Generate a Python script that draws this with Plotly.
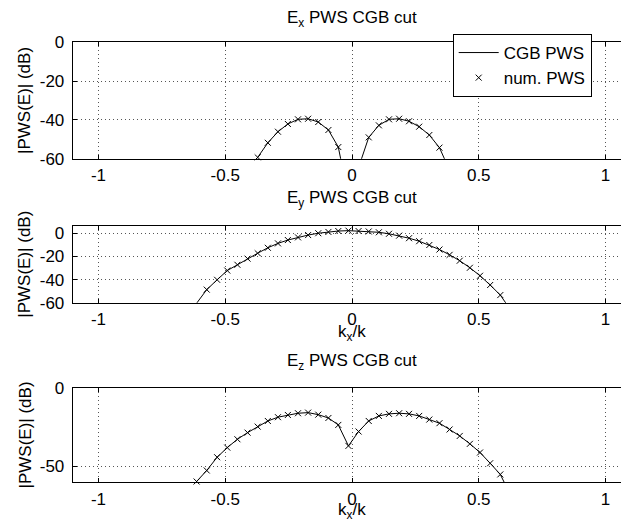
import plotly.graph_objects as go

# ---- data ----
KX = [-0.653, -0.613, -0.573, -0.532, -0.492, -0.452, -0.412, -0.372, -0.332, -0.292,
      -0.253, -0.213, -0.173, -0.133, -0.093, -0.054, -0.014, 0.026, 0.066, 0.106,
      0.146, 0.186, 0.225, 0.265, 0.305, 0.345, 0.385, 0.425, 0.465, 0.505,
      0.545, 0.585, 0.625]

EX_DB = [None, None, None, None, None, None, -66.0, -59.3, -51.8, -46.1,
         -42.1, -39.7, -39.4, -41.1, -45.2, -54.0, -80.0, -65.0, -49.0, -42.8,
         -39.7, -39.4, -40.7, -43.5, -47.8, -54.3, -66.0, None, None, None,
         None, None, None]

EY_DB = [None, -60.5, -48.7, -40.2, -32.2, -27.2, -21.9, -17.2, -12.5, -8.7,
         -5.8, -3.5, -1.5, 0.1, 1.2, 2.0, 2.3, 2.0, 1.6, 0.9,
         -0.4, -2.0, -4.2, -6.8, -10.1, -14.0, -18.6, -23.7, -29.8, -36.7,
         -44.7, -53.4, -66.0]

EZ_DB = [-68.0, -59.5, -52.5, -44.1, -38.0, -32.7, -28.5, -24.7, -21.1, -18.7,
         -17.3, -16.2, -15.8, -17.1, -19.2, -23.6, -36.9, -27.8, -21.1, -17.9,
         -16.6, -16.2, -16.6, -17.9, -20.2, -22.5, -26.5, -30.6, -35.6, -41.1,
         -47.9, -55.0, -68.0]

XTICKS = [-1, -0.5, 0, 0.5, 1]
XTICKTEXT = ["-1", "-0.5", "0", "0.5", "1"]
YTICKS_AB = [-60, -40, -20, 0]
YTICKTEXT_AB = ["-60", "-40", "-20", "0"]
YTICKS_C = [-50, 0]
YTICKTEXT_C = ["-50", "0"]

TITLES = ["E<sub>x</sub> PWS CGB cut", "E<sub>y</sub> PWS CGB cut", "E<sub>z</sub> PWS CGB cut"]
YLABEL = "|PWS(E)| (dB)"
XLABEL = "k<sub>x</sub>/k"
LEGEND_NAMES = ["CGB PWS", "num. PWS"]

# ---- layout geometry (pixels) ----
W, H = 621, 529
FONT = "Liberation Sans, Arial, Helvetica, sans-serif"
FS = 17
XL = 72.7
panels = [  # (top px, bottom px, y-range, ticks, ticktext, data)
    (42.3, 158.7, [-60, 0], YTICKS_AB, YTICKTEXT_AB, EX_DB),
    (225.7, 302.7, [-60, 6.6], YTICKS_AB, YTICKTEXT_AB, EY_DB),
    (387.7, 482.3, [-60, 0], YTICKS_C, YTICKTEXT_C, EZ_DB),
]
title_y = [19.0, 199.5, 362.0]
xlabel_y = [None, 332.5, 511.0]
k0_px = 352.0
px_per_unit = 253.5
xr = [(XL - k0_px) / px_per_unit, (W - k0_px) / px_per_unit]

fig = go.Figure()
layout = dict(width=W, height=H, autosize=False,
              margin=dict(l=0, r=0, t=0, b=0, pad=0, autoexpand=False),
              paper_bgcolor="white", plot_bgcolor="white",
              font=dict(family=FONT, size=FS, color="black"),
              showlegend=True, annotations=[])

def py(p):
    return 1 - p / H

for i, (top, bot, yr, yt, ytt, vals) in enumerate(panels):
    n = i + 1
    xa = "x" if n == 1 else f"x{n}"
    ya = "y" if n == 1 else f"y{n}"
    fig.add_trace(go.Scatter(x=KX, y=vals, mode="lines", name=LEGEND_NAMES[0],
                             line=dict(color="black", width=1),
                             showlegend=(n == 1), xaxis=xa, yaxis=ya,
                             hoverinfo="skip"))
    mk = [(k, v) for k, v in zip(KX, vals) if v is not None and yr[0] <= v <= yr[1]]
    fig.add_trace(go.Scatter(x=[k for k, _ in mk], y=[v for _, v in mk], mode="markers",
                             name=LEGEND_NAMES[1], cliponaxis=False,
                             marker=dict(symbol="x-thin", size=6,
                                         line=dict(color="black", width=1), color="black"),
                             showlegend=(n == 1), xaxis=xa, yaxis=ya))
    axis_common = dict(showline=True, linecolor="black", linewidth=1,
                       ticks="inside", ticklen=4, tickcolor="black", tickwidth=1,
                       showgrid=True, gridcolor="#555", gridwidth=1, griddash="1px,3px",
                       zeroline=False, automargin=False,
                       tickfont=dict(family=FONT, size=FS, color="black"))
    layout["xaxis" if n == 1 else f"xaxis{n}"] = dict(
        axis_common, domain=[XL / W, 1.0], range=xr, tickvals=XTICKS, ticktext=XTICKTEXT,
        mirror="ticks", anchor=ya, ticklabelstandoff=1)
    layout["yaxis" if n == 1 else f"yaxis{n}"] = dict(
        axis_common, domain=[py(bot), py(top)], range=yr, tickvals=yt, ticktext=ytt,
        mirror=False, anchor=xa, ticklabelstandoff=4)
    layout["annotations"].append(dict(text=TITLES[i], xref="paper", yref="paper",
                                      x=k0_px / W, y=py(title_y[i]), xanchor="center",
                                      yanchor="middle", showarrow=False, borderpad=0,
                                      font=dict(family=FONT, size=FS)))
    layout["annotations"].append(dict(text=YLABEL, xref="paper", yref="paper",
                                      x=24.5 / W, y=py((top + bot) / 2), xanchor="center",
                                      yanchor="middle", textangle=-90, showarrow=False,
                                      borderpad=0, font=dict(family=FONT, size=FS)))
    if xlabel_y[i] is not None:
        layout["annotations"].append(dict(text=XLABEL, xref="paper", yref="paper",
                                          x=k0_px / W, y=py(xlabel_y[i]), xanchor="center",
                                          yanchor="middle", showarrow=False, borderpad=0,
                                          font=dict(family=FONT, size=FS)))

layout["legend"] = dict(x=452.7 / W, y=py(34), xanchor="left", yanchor="top",
                        bgcolor="white", bordercolor="black", borderwidth=1,
                        itemwidth=40,
                        font=dict(family=FONT, size=FS), tracegroupgap=0)
fig.update_layout(**layout)
fig.write_html("out.html")
